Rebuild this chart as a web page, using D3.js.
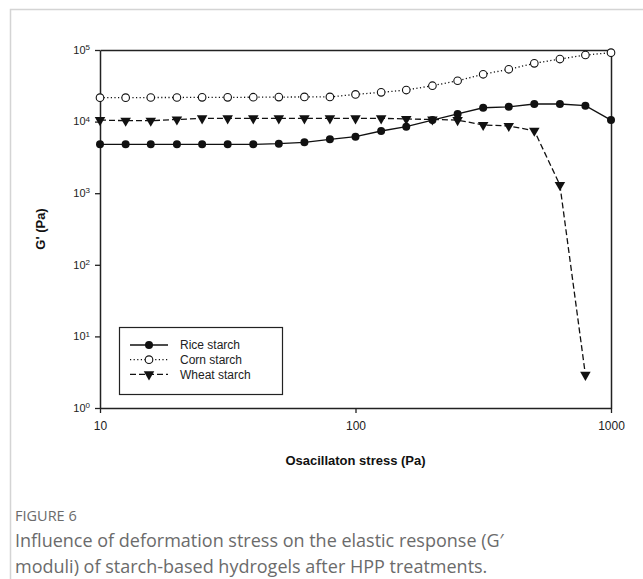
<!DOCTYPE html>
<html>
<head>
<meta charset="utf-8">
<script src="https://cdn.jsdelivr.net/npm/d3@7"></script>
<style>
  body { margin: 0; background: #fff; }
  svg { display: block; }
  .tick text { font-family: "Liberation Sans", Arial, sans-serif; fill: #222; }
  .axisTitle { font-family: "Liberation Sans", Arial, sans-serif; font-weight: bold; font-size: 13px; fill: #111; }
  .legend text { font-family: "Liberation Sans", Arial, sans-serif; font-size: 12px; fill: #222; }
  .figLabel { font-family: "Open Sans", "Noto Sans", sans-serif; font-size: 14.5px; fill: #6b6b6b; }
  .caption { font-family: "Open Sans", "Noto Sans", sans-serif; font-size: 18px; fill: #6b6b6b; }
</style>
</head>
<body>
<div class="chart"></div>
<script>
// oscillation stress (Pa)
const stress = [10, 12.6, 15.8, 20, 25.1, 31.6, 39.8, 50.1, 63.1, 79.4, 100,
  126, 158, 200, 251, 316, 398, 501, 631, 794, 1000];

// G' (Pa)
const rice = [4820, 4820, 4820, 4820, 4820, 4820, 4820, 4910, 5140, 5660, 6150,
  7390, 8490, 10500, 12800, 15600, 16100, 17600, 17600, 16700, 10500];
const corn = [21600, 21600, 21700, 21700, 21800, 21800, 21900, 22000, 22100, 22100, 24000,
  25600, 27600, 31700, 37200, 45800, 53800, 65100, 74800, 85100, 91700];
const wheat = [10500, 10300, 10300, 10700, 11100, 11100, 11100, 11100, 11100, 11100, 11100,
  11100, 10900, 10700, 10500, 8980, 8700, 7470, 1300, 2.9];

const xTicks = [10, 100, 1000];
const yTicks = [1, 10, 100, 1000, 10000, 100000];

const seriesNames = ['Rice starch', 'Corn starch', 'Wheat starch'];

const width = 643, height = 579;
const margin = { top: 50, right: 32, bottom: 171, left: 100 };

const svg = d3.select('.chart').append('svg')
  .attr('width', width)
  .attr('height', height);

// card border
svg.append('path')
  .attr('d', `M10.5,${height} V9.5 H${width}`)
  .attr('fill', 'none')
  .attr('stroke', '#d4d4d4')
  .attr('stroke-width', 1.5);

const x = d3.scaleLog()
  .domain([10, 1000])
  .range([margin.left, width - margin.right]);

const y = d3.scaleLog()
  .domain([1, 100000])
  .range([height - margin.bottom, margin.top]);

// axes
const xAxis = svg.append('g')
  .attr('transform', `translate(0, ${y(1)})`)
  .call(d3.axisBottom(x).tickValues(xTicks).tickSize(5).tickSizeOuter(0).tickFormat(d3.format('d')));
xAxis.selectAll('text').attr('dy', '1.15em').style('font-size', '12px');

const yAxis = svg.append('g')
  .attr('transform', `translate(${x(10)}, 0)`)
  .call(d3.axisLeft(y).tickValues(yTicks).tickSize(5).tickSizeOuter(0).tickFormat(''));
yAxis.selectAll('.tick text').remove();
yAxis.selectAll('.tick').append('text')
  .attr('x', -10)
  .attr('dy', '0.3em')
  .attr('text-anchor', 'end')
  .style('font-size', '11px')
  .each(function (d) {
    const t = d3.select(this);
    t.append('tspan').text('10');
    t.append('tspan').attr('dy', '-0.45em').style('font-size', '8px').text(Math.round(Math.log10(d)));
  });

// frame on top and right
svg.append('g')
  .attr('transform', `translate(0, ${y(100000)})`)
  .call(d3.axisTop(x).tickValues([]).tickSizeOuter(0));
svg.append('g')
  .attr('transform', `translate(${x(1000)}, 0)`)
  .call(d3.axisRight(y).tickValues([]).tickSizeOuter(0));

svg.selectAll('.domain').attr('stroke', '#222').attr('stroke-width', 1.5);
svg.selectAll('.tick line').attr('stroke', '#222').attr('stroke-width', 1.3);

// axis titles
svg.append('text')
  .attr('class', 'axisTitle')
  .attr('x', (x(10) + x(1000)) / 2)
  .attr('y', 465)
  .attr('text-anchor', 'middle')
  .text('Osacillaton stress (Pa)');

svg.append('text')
  .attr('class', 'axisTitle')
  .attr('transform', `translate(45, ${(y(1) + y(100000)) / 2}) rotate(-90)`)
  .attr('text-anchor', 'middle')
  .text("G' (Pa)");

// series
const series = [
  { name: seriesNames[0], values: rice, dash: null, marker: 'filled' },
  { name: seriesNames[1], values: corn, dash: '1.2,2.4', marker: 'open' },
  { name: seriesNames[2], values: wheat, dash: '6,3', marker: 'tri' }
];

const line = d3.line()
  .x((d, i) => x(stress[i]))
  .y(d => y(d));

const triangle = d3.symbol().type(d3.symbolTriangle).size(48);

function drawMarker(g, type) {
  if (type === 'filled') {
    g.append('circle').attr('r', 4).attr('fill', '#111');
  } else if (type === 'open') {
    g.append('circle').attr('r', 3.8).attr('fill', '#fff').attr('stroke', '#111').attr('stroke-width', 1.1);
  } else {
    g.append('path').attr('d', triangle).attr('transform', 'rotate(180)').attr('fill', '#111');
  }
}

series.forEach(s => {
  svg.append('path')
    .datum(s.values)
    .attr('d', line)
    .attr('fill', 'none')
    .attr('stroke', '#111')
    .attr('stroke-width', 1.3)
    .attr('stroke-dasharray', s.dash);
});

series.forEach(s => {
  svg.selectAll(null)
    .data(s.values)
    .enter()
    .append('g')
    .attr('transform', (d, i) => `translate(${x(stress[i])}, ${y(d)})`)
    .each(function () { drawMarker(d3.select(this), s.marker); });
});

// legend
const legend = svg.append('g').attr('class', 'legend');
legend.append('rect')
  .attr('x', 119.5).attr('y', 327.5)
  .attr('width', 163).attr('height', 67)
  .attr('fill', '#fff')
  .attr('stroke', '#222')
  .attr('stroke-width', 1.2);

series.forEach((s, i) => {
  const ly = 345 + i * 14.7;
  const g = legend.append('g');
  g.append('line')
    .attr('x1', 130).attr('x2', 168)
    .attr('y1', ly).attr('y2', ly)
    .attr('stroke', '#111')
    .attr('stroke-width', 1.3)
    .attr('stroke-dasharray', s.dash);
  const m = g.append('g').attr('transform', `translate(149, ${ly})`);
  drawMarker(m, s.marker);
  g.append('text')
    .attr('x', 180)
    .attr('y', ly)
    .attr('dy', '0.35em')
    .text(s.name);
});

// figure caption
svg.append('text')
  .attr('class', 'figLabel')
  .attr('x', 15)
  .attr('y', 521)
  .text('FIGURE 6');

svg.append('text')
  .attr('class', 'caption')
  .attr('x', 15)
  .attr('y', 547)
  .text('Influence of deformation stress on the elastic response (G\u2032');

svg.append('text')
  .attr('class', 'caption')
  .attr('x', 15)
  .attr('y', 573)
  .text('moduli) of starch-based hydrogels after HPP treatments.');
</script>
</body>
</html>
